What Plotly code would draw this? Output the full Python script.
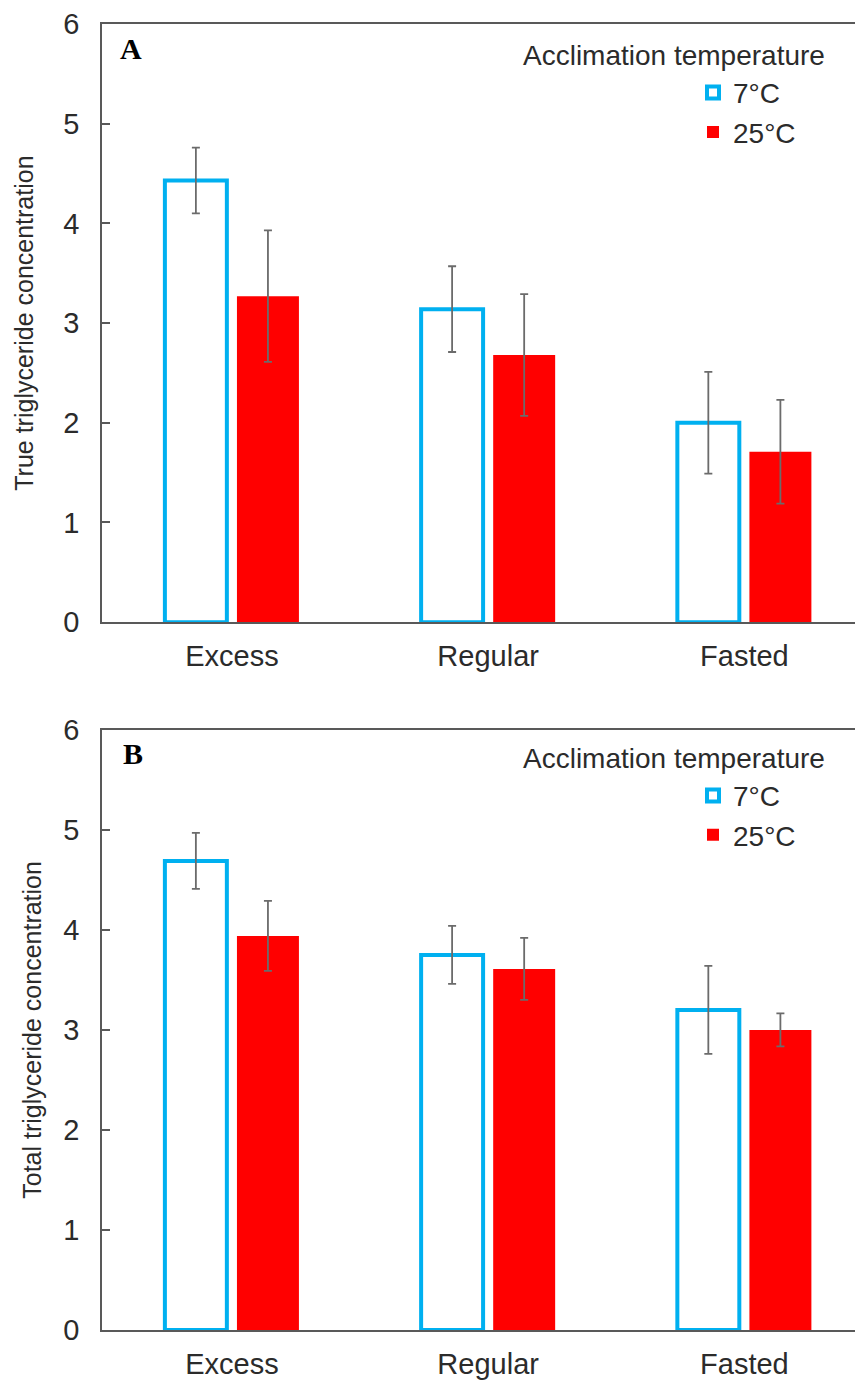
import plotly.graph_objects as go

categories = ["Excess", "Regular", "Fasted"]
series_names = ["7°C", "25°C"]

true_7 = [4.43, 3.14, 2.00]
true_7_err = [0.33, 0.43, 0.51]
true_25 = [3.27, 2.68, 1.71]
true_25_err = [0.66, 0.61, 0.52]

total_7 = [4.69, 3.75, 3.20]
total_7_err = [0.28, 0.29, 0.44]
total_25 = [3.94, 3.61, 3.00]
total_25_err = [0.35, 0.31, 0.165]

y_ticks = [0, 1, 2, 3, 4, 5, 6]

BLUE = "#00B0F0"
RED = "#FF0000"
ERR = "#6b6b6b"
AX = "#595959"
TXT = "#2b2b2b"
FONT = "Liberation Sans, Arial, sans-serif"

OFF = 8  # page body margin
W, H = 863 - OFF, 1380 - OFF
ML, MR, MT, MB = 94, 0, 12, 50
PW, PH = W - ML - MR, H - MT - MB


def px_x(xs):
    return (xs - OFF - ML) / PW


def px_y(ys):
    return (H - MB - (ys - OFF)) / PH


def err(vals, color=ERR):
    return dict(type="data", array=vals, visible=True, color=color,
                thickness=1.8, width=4)


fig = go.Figure()

fig.add_trace(go.Bar(x=categories, y=true_7, name=series_names[0],
                     marker=dict(color="white", line=dict(color=BLUE, width=4)),
                     error_y=err(true_7_err), xaxis="x", yaxis="y", legend="legend"))
fig.add_trace(go.Bar(x=categories, y=true_25, name=series_names[1],
                     marker=dict(color=RED, line=dict(color=RED, width=0)),
                     error_y=err(true_25_err), xaxis="x", yaxis="y", legend="legend"))
fig.add_trace(go.Bar(x=categories, y=total_7, name=series_names[0],
                     marker=dict(color="white", line=dict(color=BLUE, width=4)),
                     error_y=err(total_7_err), xaxis="x2", yaxis="y2", legend="legend2"))
fig.add_trace(go.Bar(x=categories, y=total_25, name=series_names[1],
                     marker=dict(color=RED, line=dict(color=RED, width=0)),
                     error_y=err(total_25_err), xaxis="x2", yaxis="y2", legend="legend2"))

xr = [-0.507, 2.463]
xaxis_common = dict(range=xr, showline=True, linecolor=AX, linewidth=1.5, mirror=True,
                    ticks="", showgrid=False, zeroline=False,
                    tickfont=dict(family=FONT, size=29, color=TXT), ticklabelstandoff=7)
yaxis_common = dict(range=[0, 6], tickvals=y_ticks, showline=True, linecolor=AX, linewidth=1.5,
                    ticks="inside", ticklen=8, tickwidth=1.5, tickcolor=AX,
                    showgrid=False, zeroline=False,
                    tickfont=dict(family=FONT, size=29, color=TXT), ticklabelstandoff=15)

legend_common = dict(font=dict(family=FONT, size=28, color=TXT), bgcolor="rgba(0,0,0,0)",
                     xanchor="left", yanchor="top", tracegroupgap=0, itemwidth=30)

fig.update_layout(
    width=W, height=H,
    margin=dict(l=ML, r=MR, t=MT, b=MB),
    paper_bgcolor="white", plot_bgcolor="white",
    barmode="group", bargap=0.4375, bargroupgap=0.14,
    xaxis=dict(domain=[0, 1], anchor="y", **xaxis_common),
    yaxis=dict(domain=[px_y(620), 1], anchor="x",
               title=dict(text="True triglyceride concentration",
                          font=dict(family=FONT, size=25, color=TXT), standoff=23),
               **yaxis_common),
    xaxis2=dict(domain=[0, 1], anchor="y2", **xaxis_common),
    yaxis2=dict(domain=[0, px_y(728)], anchor="x2",
                title=dict(text="Total triglyceride concentration",
                           font=dict(family=FONT, size=25, color=TXT), standoff=15),
                **yaxis_common),
    legend=dict(x=px_x(693), y=px_y(64), **legend_common),
    legend2=dict(x=px_x(693), y=px_y(769), **legend_common),
    showlegend=True,
    annotations=[
        dict(text="<b>A</b>", x=px_x(118), y=px_y(45), xref="paper", yref="paper",
             xanchor="left", yanchor="middle", showarrow=False,
             font=dict(family="Liberation Serif, Times New Roman, serif", size=30, color="black")),
        dict(text="<b>B</b>", x=px_x(121), y=px_y(752), xref="paper", yref="paper",
             xanchor="left", yanchor="middle", showarrow=False,
             font=dict(family="Liberation Serif, Times New Roman, serif", size=30, color="black")),
        dict(text="Acclimation temperature", x=px_x(674), y=px_y(52), xref="paper", yref="paper",
             xanchor="center", yanchor="middle", showarrow=False,
             font=dict(family=FONT, size=28, color=TXT)),
        dict(text="Acclimation temperature", x=px_x(674), y=px_y(757), xref="paper", yref="paper",
             xanchor="center", yanchor="middle", showarrow=False,
             font=dict(family=FONT, size=28, color=TXT)),
    ],
)

fig.write_html("out.html")
